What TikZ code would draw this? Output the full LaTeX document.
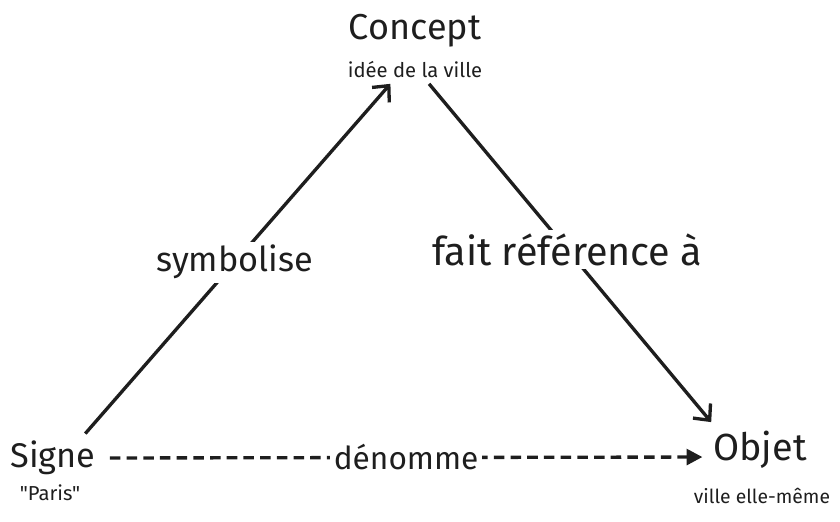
\documentclass[tikz,border=0pt]{standalone}
\usepackage{fontspec}
\setmainfont{Fira Sans}[Ligatures=TeXOff]
\usetikzlibrary{arrows.meta,positioning}
\definecolor{encre}{HTML}{1E1E1E}

\begin{document}
\begin{tikzpicture}[
        every node/.style={text=encre},
        grand/.style={font=\fontsize{20.5}{24}\selectfont, inner sep=2pt},
        petit/.style={font=\fontsize{11.5}{13}\selectfont, inner sep=1pt},
        fleche/.style={draw=encre, line width=1.9pt, -{Straight Barb[length=7pt,width=13pt,line width=1.9pt]}},
        pointille/.style={draw=encre, line width=1.9pt, dash pattern=on 6pt off 3.5pt, -{Triangle[length=9pt,width=9pt]}},
        etiquette/.style={font=\fontsize{19.5}{22}\selectfont, fill=white, inner sep=2pt}
    ]
        \useasboundingbox (0, 0) rectangle (16.8, 10.42);

        % Sommets du triangle
        \node[grand] (concept) at (8.3, 9.8) {Concept};
        \node[petit] (conceptsub) at (8.3, 9.02) {idée de la ville};
        \node[grand, font=\fontsize{19.5}{22}\selectfont] (signe) at (1.06, 1.26) {Signe};
        \node[petit] (signesub) at (1.0, 0.56) {"Paris"};
        \node[grand, font=\fontsize{21.5}{24}\selectfont] (objet) at (15.2, 1.42) {Objet};
        \node[petit, font=\fontsize{11}{13}\selectfont] (objetsub) at (15.24, 0.5) {ville elle-même};

        % Signe -> Concept
        \draw[fleche] ([xshift=-8pt,yshift=2pt]signe.north east) -- ([xshift=-14pt,yshift=-2pt]conceptsub.south)
            node[etiquette, pos=0.49] {symbolise};
        % Concept -> Objet
        \draw[fleche] ([xshift=8pt,yshift=-2pt]conceptsub.south) -- ([xshift=1pt,yshift=3pt]objet.north west)
            node[etiquette, pos=0.49, font=\fontsize{22.5}{26}\selectfont] {fait référence à};

        % Signe -> Objet
        \draw[pointille] ([xshift=6pt]signe.east) -- ([xshift=-4pt,yshift=-4pt]objet.west)
            node[etiquette, pos=0.5, font=\fontsize{18}{22}\selectfont] {dénomme};

    \end{tikzpicture}
\end{document}
